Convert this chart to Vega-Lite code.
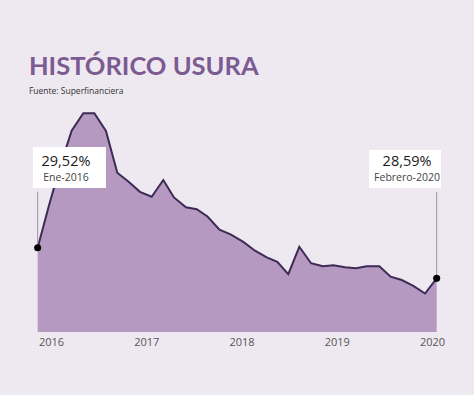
{
  "$schema": "https://vega.github.io/schema/vega-lite/v6.json",
  "width": 399,
  "height": 232,
  "autosize": "none",
  "padding": {"left": 38, "top": 100, "right": 37, "bottom": 63},
  "background": "#EEE9F0",
  "config": {"view": {"stroke": null}},
  "title": {
    "text": "HISTÓRICO USURA",
    "subtitle": "Fuente: Superfinanciera",
    "anchor": "start",
    "font": "Lato",
    "fontSize": 25.5,
    "fontWeight": "bold",
    "color": "#7C5A92",
    "subtitleFont": "Open Sans",
    "subtitleFontSize": 8.5,
    "subtitleColor": "#333333",
    "dx": -4,
    "offset": 5,
    "subtitlePadding": 6
  },
  "data": {
    "values": [
      {"t": 2015.860, "v": 29.52},
      {"t": 2015.980, "v": 30.82},
      {"t": 2016.100, "v": 32.03},
      {"t": 2016.217, "v": 33.08},
      {"t": 2016.339, "v": 33.61},
      {"t": 2016.455, "v": 33.61},
      {"t": 2016.577, "v": 33.07},
      {"t": 2016.696, "v": 31.80},
      {"t": 2016.818, "v": 31.52},
      {"t": 2016.934, "v": 31.22},
      {"t": 2017.057, "v": 31.07},
      {"t": 2017.179, "v": 31.58},
      {"t": 2017.291, "v": 31.05},
      {"t": 2017.417, "v": 30.75},
      {"t": 2017.530, "v": 30.69},
      {"t": 2017.643, "v": 30.47},
      {"t": 2017.769, "v": 30.07},
      {"t": 2017.890, "v": 29.92},
      {"t": 2018.019, "v": 29.70},
      {"t": 2018.142, "v": 29.43},
      {"t": 2018.265, "v": 29.23},
      {"t": 2018.376, "v": 29.09},
      {"t": 2018.491, "v": 28.72},
      {"t": 2018.607, "v": 29.55},
      {"t": 2018.730, "v": 29.05},
      {"t": 2018.853, "v": 28.96},
      {"t": 2018.964, "v": 28.99},
      {"t": 2019.087, "v": 28.93},
      {"t": 2019.202, "v": 28.90},
      {"t": 2019.314, "v": 28.96},
      {"t": 2019.447, "v": 28.96},
      {"t": 2019.566, "v": 28.64},
      {"t": 2019.682, "v": 28.54},
      {"t": 2019.804, "v": 28.36},
      {"t": 2019.927, "v": 28.13},
      {"t": 2020.049, "v": 28.59}
    ]
  },
  "encoding": {
    "x": {
      "field": "t",
      "type": "quantitative",
      "scale": {"domain": [2015.8635, 2020.0525], "nice": false, "zero": false},
      "axis": {
        "values": [2016, 2017, 2018, 2019, 2020],
        "format": "d",
        "title": null,
        "domain": false,
        "ticks": false,
        "grid": false,
        "labelFont": "Open Sans",
        "labelFontSize": 11,
        "labelColor": "#555555",
        "labelPadding": 4,
        "labelFlush": false,
        "labelOverlap": false
      }
    },
    "y": {
      "field": "v",
      "type": "quantitative",
      "scale": {"domain": [26.96, 34.01], "nice": false, "zero": false},
      "axis": null
    }
  },
  "layer": [
    {
      "mark": {"type": "area", "color": "#B599C0", "opacity": 1, "fillOpacity": 1, "line": {"color": "#3D2A55", "strokeWidth": 2}},
      "encoding": {"y2": {"datum": 26.96}}
    },
    {
      "data": {"values": [
        {"t": 2015.860, "v": 29.52, "tx": 2016.157, "pct": "29,52%", "lab": "Ene-2016"},
        {"t": 2020.049, "v": 28.59, "tx": 2019.738, "pct": "28,59%", "lab": "Febrero-2020"}
      ]},
      "layer": [
        {
          "transform": [{"filter": "datum.lab == 'Ene-2016'"}],
          "mark": {"type": "rect", "color": "white", "opacity": 1, "width": 73, "height": 41, "xOffset": 3.5},
          "encoding": {
            "x": {"field": "tx", "type": "quantitative"},
            "y": {"datum": 31.958, "type": "quantitative"}
          }
        },
        {
          "transform": [{"filter": "datum.lab == 'Febrero-2020'"}],
          "mark": {"type": "rect", "color": "white", "opacity": 1, "width": 72, "height": 38, "xOffset": -2},
          "encoding": {
            "x": {"field": "tx", "type": "quantitative"},
            "y": {"datum": 31.912, "type": "quantitative"}
          }
        },
        {
          "mark": {"type": "rule", "color": "#999999", "strokeWidth": 1},
          "encoding": {"y": {"datum": 31.222, "type": "quantitative"}, "y2": {"field": "v"}}
        },
        {
          "mark": {"type": "circle", "color": "black", "opacity": 1, "size": 50},
          "encoding": {}
        },
        {
          "mark": {"type": "text", "font": "Open Sans", "fontSize": 14.5, "color": "#1a1a1a", "baseline": "alphabetic", "align": "center"},
          "encoding": {
            "x": {"field": "tx", "type": "quantitative"},
            "y": {"datum": 31.99, "type": "quantitative"},
            "text": {"field": "pct"}
          }
        },
        {
          "mark": {"type": "text", "font": "Open Sans", "fontSize": 10.5, "color": "#444444", "baseline": "alphabetic", "align": "center"},
          "encoding": {
            "x": {"field": "tx", "type": "quantitative"},
            "y": {"datum": 31.54, "type": "quantitative"},
            "text": {"field": "lab"}
          }
        }
      ]
    }
  ]
}
